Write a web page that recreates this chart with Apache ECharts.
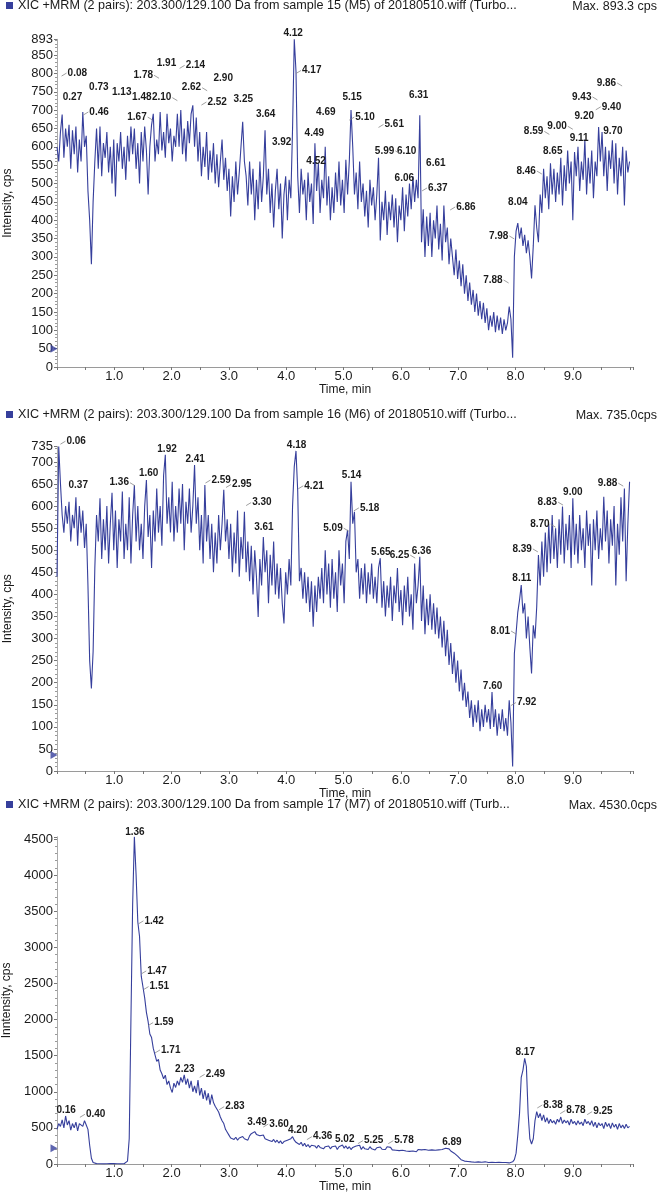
<!DOCTYPE html>
<html>
<head>
<meta charset="utf-8">
<script src="https://cdn.jsdelivr.net/npm/echarts@6.0.0/dist/echarts.min.js"></script>
<style>
  html, body { margin: 0; padding: 0; background: #fff; }
  #chart { width: 658px; height: 1193px; }
</style>
</head>
<body>
<div id="chart"></div>
<script>
// scan interval of the XIC traces, min
const STEP = 0.03
const xLabelTimes = [1, 2, 3, 4, 5, 6, 7, 8, 9]

const sampleTitles = [
  'XIC +MRM (2 pairs): 203.300/129.100 Da from sample 15 (M5) of 20180510.wiff (Turbo...',
  'XIC +MRM (2 pairs): 203.300/129.100 Da from sample 16 (M6) of 20180510.wiff (Turbo...',
  'XIC +MRM (2 pairs): 203.300/129.100 Da from sample 17 (M7) of 20180510.wiff (Turb...'
]
const maxTexts = ['Max. 893.3 cps', 'Max. 735.0cps', 'Max. 4530.0cps']
const yNames = ['Intensity, cps', 'Intensity, cps', 'Inntensity, cps']
const yMax = [893, 735, 4530]
const yStep = [50, 50, 500]
const baseMarks = [50, 36, 217]

// sample 15 (M5), intensity every STEP min from 0.00
const p1Intensity = [
  600, 560, 640, 688, 570, 650, 600, 660, 540, 645,
  580, 655, 530, 620, 560, 695, 600, 630, 480, 400,
  280, 450, 560, 650, 540, 655, 520, 610, 570, 640,
  530, 600, 500, 620, 465, 610, 560, 640, 540, 600,
  510, 630, 560, 655, 580, 650, 540, 610, 500, 640,
  560, 655, 590, 470, 600, 660, 690, 560, 620, 580,
  695, 590, 640, 570, 690, 610, 650, 560, 630, 600,
  690, 600, 700, 580, 650, 560, 670, 610, 690, 713,
  600, 680, 560, 640, 520, 600, 545, 640, 510, 590,
  530, 610, 500, 580, 490, 560, 620, 510, 570, 480,
  540, 410, 520, 450, 560, 470, 530, 600, 668, 560,
  520, 440, 560, 470, 540, 400, 510, 430, 560, 450,
  520, 645, 470, 540, 420, 500, 380, 480, 540, 430,
  500, 350, 470, 520, 400, 510, 460, 650, 893, 805,
  520, 420, 540, 470, 510, 400, 530, 450, 500, 390,
  610, 480, 555, 420, 510, 460, 600, 440, 520, 400,
  490, 420, 530, 450, 560, 440, 510, 420, 565, 470,
  560, 700, 600, 470, 530, 430, 560, 450, 500, 410,
  480, 380, 510, 440, 490, 400, 470, 570, 345, 450,
  400, 480, 360, 450, 400, 470, 380, 460, 340, 440,
  400, 490, 370, 470, 410, 500, 430, 520, 450, 510,
  460, 686, 340, 430, 300, 410, 330, 420, 300, 400,
  350, 440, 320, 390, 290, 440, 340, 380, 280, 350,
  300, 250, 320, 240, 290, 220, 280, 200, 250, 180,
  230, 170, 210, 150, 200, 140, 180, 130, 175, 120,
  160, 100, 140, 110, 150, 95, 140, 100, 135, 90,
  130, 100, 120, 165, 130, 25, 300, 370, 392, 350,
  380, 330, 360, 310, 345, 300, 241, 330, 441, 380,
  340, 470, 420, 540, 460, 520, 430, 555, 470, 540,
  450, 530, 470, 570, 440, 550, 480, 590, 500, 560,
  400, 586, 520, 600, 480, 560, 510, 620, 470, 570,
  500, 590, 460, 560, 520, 654, 560, 640, 520, 600,
  480, 590, 540, 618, 500, 610, 470, 570, 520, 600,
  440, 590, 530, 560
]

// sample 16 (M6)
const p2Intensity = [
  440, 735, 652, 580, 540, 600, 560, 610, 520, 580,
  550, 620, 510, 600, 540, 590, 505, 560, 420, 250,
  187, 270, 460, 580, 520, 618, 480, 570, 500, 600,
  470, 560, 630, 500, 590, 460, 570, 520, 633, 480,
  560, 500, 620, 470, 580, 648, 520, 600, 500, 560,
  480, 600, 659, 530, 580, 460, 590, 520, 640, 540,
  600, 510, 670, 716, 560, 620, 540, 655, 520, 600,
  540, 640, 560, 650, 500, 610, 560, 640, 540, 600,
  693, 560, 620, 500, 580, 470, 648, 520, 580, 480,
  560, 450, 540, 470, 580, 500, 560, 637, 520, 570,
  480, 560, 450, 540, 470, 590, 440, 530, 480, 587,
  450, 520, 430, 510, 400, 500, 440, 349, 480, 420,
  530, 450, 500, 380, 490, 420, 520, 400, 470, 390,
  460, 380, 334, 450, 400, 480, 420, 600, 690, 725,
  633, 430, 460, 390, 450, 380, 440, 360, 430, 327,
  420, 360, 440, 390, 460, 380, 500, 400, 470, 370,
  480, 390, 450, 360, 500, 420, 470, 380, 520, 546,
  480, 655, 560, 587, 450, 480, 390, 460, 400, 470,
  380, 450, 400, 470, 390, 440, 380, 460, 482, 370,
  430, 350, 420, 370, 440, 340, 420, 380, 460, 360,
  410, 330, 420, 360, 440, 350, 400, 320, 470, 380,
  420, 485, 340, 420, 310, 390, 330, 400, 320, 380,
  310, 370, 300, 350, 280, 340, 260, 320, 240, 290,
  220, 270, 200, 250, 180, 230, 160, 200, 145, 180,
  120, 160, 100, 150, 110, 160, 90, 140, 100, 150,
  110, 140, 95, 179, 100, 140, 80, 130, 95, 140,
  90, 120, 80, 160, 110, 10, 266, 312, 360, 387,
  421, 357, 380, 300, 350, 280, 221, 330, 300, 372,
  489, 420, 520, 440, 540, 450, 560, 470, 580, 480,
  550, 460, 570, 490, 599, 470, 560, 500, 580, 460,
  618, 490, 560, 470, 580, 500, 550, 460, 590, 510,
  560, 420, 570, 500, 590, 480, 550, 500, 621, 520,
  590, 470, 570, 510, 600, 420, 560, 490, 620, 520,
  640, 430, 560, 655
]

// sample 17 (M7)
const p3Intensity = [
  480, 560, 520, 610, 500, 665, 540, 600, 470, 560,
  500, 580, 460, 560, 586, 520, 600, 540, 480, 260,
  80, 20, 10, 5, 8, 3, 6, 2, 5, 4,
  3, 6, 2, 5, 8, 3, 5, 2, 6, 4,
  8, 40, 350, 2000, 3600, 4530, 4000, 3350, 3150, 2600,
  2450, 2300, 2100, 1970, 1800, 1750, 1600, 1580, 1420, 1450,
  1300, 1250, 1180, 1230, 1100, 1150, 1050, 990, 1120, 1060,
  1150, 1090, 1200, 1130, 1233, 1100, 1180, 1050, 1150, 1000,
  1080, 980, 1163, 950, 1050, 900, 1020, 880, 980, 820,
  960, 850, 800, 794, 720, 650, 600, 560, 480, 440,
  400, 360, 380, 340, 370, 330, 360, 340, 380, 350,
  360, 330, 390, 420, 400, 448, 410, 430, 390, 380,
  402, 350, 370, 330, 350, 310, 340, 300, 330, 290,
  320, 280, 310, 290, 330, 310, 350, 378, 330, 300,
  320, 270, 300, 250, 286, 240, 270, 230, 260, 240,
  250, 220, 260, 230, 250, 210, 240, 220, 250, 210,
  240, 220, 250, 200, 240, 230, 263, 220, 250, 210,
  240, 200, 230, 210, 250, 230, 260, 200, 240, 210,
  230, 200, 240, 210, 230, 195, 225, 200, 235, 205,
  230, 200, 240, 215, 230, 195, 220, 190, 215, 185,
  210, 190, 215, 180, 205, 175, 200, 180, 205, 170,
  200, 175, 195, 170, 200, 175, 190, 165, 195, 170,
  190, 165, 195, 180, 200, 190, 217, 200, 210, 180,
  200, 150, 160, 110, 90, 60, 55, 40, 55, 35,
  50, 30, 45, 25, 40, 30, 45, 25, 40, 30,
  40, 20, 35, 25, 40, 20, 35, 25, 30, 20,
  35, 20, 30, 15, 25, 30, 60, 150, 400, 700,
  1200, 1300, 1463, 1350, 700, 350, 277, 350, 600, 725,
  640, 700, 600, 680, 580, 640, 560, 620, 570, 600,
  550, 620, 580, 650, 560, 610, 570, 600, 540, 620,
  560, 590, 540, 600, 550, 580, 530, 620, 560, 590,
  540, 600, 520, 580, 500, 570, 530, 560, 490, 580,
  520, 560, 490, 570, 510, 550, 480, 560, 500, 540,
  490, 550, 500, 520
]

// peak annotations [retention time, level of the label]
// centered over the peak / text right of a leader / text left of a leader
const p1Centered = [[0.27, 734], [0.73, 761], [1.13, 749], [1.48, 734], [1.91, 828], [2.90, 788], [3.25, 729],
  [3.64, 688], [3.92, 613], [4.12, 910], [4.49, 636], [4.52, 561], [4.69, 695], [5.15, 736], [6.06, 515],
  [6.10, 589], [6.31, 740], [6.61, 556], [8.04, 450], [8.65, 588], [9.11, 624], [9.20, 683], [9.70, 642]]
const p1Right = [[0.08, 801], [0.46, 695], [2.14, 822], [2.52, 722], [4.17, 808], [5.10, 681], [5.61, 661],
  [6.37, 488], [6.86, 436], [9.40, 709]]
const p1Left = [[1.67, 681], [1.78, 795], [2.10, 734], [2.62, 761], [5.99, 589], [7.88, 237], [7.98, 357],
  [8.46, 534], [8.59, 642], [9.00, 656], [9.43, 736], [9.86, 774]]

const p2Centered = [[0.37, 648], [1.60, 674], [1.92, 729], [2.41, 706], [3.61, 551], [4.18, 738], [5.14, 669],
  [5.65, 495], [6.36, 498], [7.60, 191], [8.11, 436], [9.00, 631]]
const p2Right = [[0.06, 747], [2.59, 659], [2.95, 649], [3.30, 608], [4.21, 646], [5.18, 596], [7.92, 155]]
const p2Left = [[1.36, 653], [5.09, 550], [6.25, 489], [8.01, 317], [8.39, 503], [8.70, 559], [8.83, 609], [9.88, 652]]

const p3Centered = [[0.16, 748], [1.36, 4589], [2.23, 1311], [3.49, 572], [4.20, 471], [5.02, 342], [6.89, 296], [8.17, 1542]]
const p3Right = [[0.40, 688], [1.42, 3366], [1.47, 2673], [1.51, 2456], [1.59, 1958], [1.71, 1579], [2.49, 1242],
  [2.83, 794], [3.60, 554], [4.36, 379], [5.25, 323], [5.78, 323], [8.38, 817], [8.78, 739], [9.25, 725]]
const p3Left = []

const traces = [p1Intensity, p2Intensity, p3Intensity]
const labelSets = [
  [p1Centered, p1Right, p1Left],
  [p2Centered, p2Right, p2Left],
  [p3Centered, p3Right, p3Left]
]

const FONT = '"Liberation Sans", Arial, Helvetica, sans-serif'
const LINE_COLOR = '#363f9c'
const TEXT_COLOR = '#1a1a1a'
// layout of the three panels
const gridTops = [39.3, 446.5, 836.8]
const gridHeights = [327.7, 324.5, 327.2]
const headTops = [-1, 408, 798]

function toPoints (values) {
  return values.map((v, i) => [+(i * STEP).toFixed(2), v])
}

/**
 * side 0: label centered, 1: label right of a leader, -1: label left of a leader
 */
function peakLabels (idx, data, side) {
  return {
    type: 'custom',
    xAxisIndex: idx,
    yAxisIndex: idx,
    data: data,
    clip: false,
    silent: true,
    z: 5,
    renderItem (params, api) {
      const p = api.coord([api.value(0), api.value(1)])
      const textStyle = {
        text: api.value(0).toFixed(2),
        fontSize: 10,
        fontWeight: 'bold',
        fontFamily: FONT,
        fill: TEXT_COLOR,
        verticalAlign: 'middle'
      }
      if (!side) {
        return { type: 'text', style: { ...textStyle, x: p[0], y: p[1], align: 'center' } }
      }
      const dx = side * 5
      return {
        type: 'group',
        children: [
          { type: 'line', shape: { x1: p[0], y1: p[1] + 3, x2: p[0] + dx, y2: p[1] }, style: { stroke: '#888', lineWidth: 0.8 } },
          { type: 'text', style: { ...textStyle, x: p[0] + dx + side, y: p[1], align: side > 0 ? 'left' : 'right' } }
        ]
      }
    }
  }
}

const grid = [], xAxis = [], yAxis = [], series = [], legend = [], title = []

traces.forEach((values, i) => {
  grid.push({ left: 57, top: gridTops[i], width: 576, height: gridHeights[i], outerBoundsMode: 'none' })
  xAxis.push({
    gridIndex: i,
    type: 'value',
    min: 0,
    max: 10.05,
    interval: 0.5,
    name: 'Time, min',
    nameLocation: 'middle',
    nameGap: 16,
    nameTextStyle: { fontSize: 12, color: TEXT_COLOR, fontFamily: FONT },
    axisLine: { lineStyle: { color: '#9a9a9a' } },
    axisTick: { length: 3, lineStyle: { color: '#777' } },
    splitLine: { show: false },
    axisLabel: {
      margin: 3,
      fontSize: 13,
      color: TEXT_COLOR,
      fontFamily: FONT,
      showMinLabel: true,
      showMaxLabel: true,
      formatter: v => {
        const t = xLabelTimes.find(x => Math.abs(x - v) < 1e-6)
        return t ? t.toFixed(1) : ''
      }
    }
  })
  yAxis.push({
    gridIndex: i,
    type: 'value',
    min: 0,
    max: yMax[i],
    interval: yStep[i],
    name: yNames[i],
    nameLocation: 'middle',
    nameGap: 43,
    nameTextStyle: { fontSize: 12, color: TEXT_COLOR, fontFamily: FONT },
    axisLine: { show: true, lineStyle: { color: '#aaa' } },
    axisTick: { show: true, length: 3, lineStyle: { color: '#777' } },
    minorTick: { show: true, splitNumber: 5, length: 2, lineStyle: { color: '#999' } },
    splitLine: { show: false },
    axisLabel: {
      margin: 4,
      fontSize: 13,
      color: TEXT_COLOR,
      fontFamily: FONT,
      showMaxLabel: true,
      formatter: v => {
        if (v % yStep[i] === 0) return String(v)
        return v === yMax[i] && i < 2 ? String(Math.round(v)) : ''
      }
    }
  })
  series.push({
    type: 'line',
    name: sampleTitles[i],
    xAxisIndex: i,
    yAxisIndex: i,
    data: toPoints(values),
    showSymbol: false,
    symbol: 'none',
    sampling: null,
    lineStyle: { width: 1.1, color: LINE_COLOR },
    itemStyle: { color: LINE_COLOR },
    z: 2
  })
  series.push({
    type: 'scatter',
    xAxisIndex: i,
    yAxisIndex: i,
    data: [[0, baseMarks[i]]],
    symbol: 'triangle',
    symbolSize: [8, 7],
    symbolRotate: -90,
    symbolOffset: [-3, 0],
    itemStyle: { color: LINE_COLOR },
    clip: false,
    silent: true,
    z: 4
  })
  const [centered, right, left] = labelSets[i]
  series.push(peakLabels(i, centered, 0), peakLabels(i, right, 1), peakLabels(i, left, -1))

  legend.push({
    data: [sampleTitles[i]],
    left: 6,
    top: headTops[i],
    padding: 0,
    icon: 'rect',
    itemWidth: 7,
    itemHeight: 7,
    selectedMode: false,
    textStyle: { fontSize: 12.6, color: TEXT_COLOR, fontFamily: FONT }
  })
  title.push({
    text: maxTexts[i],
    right: 1,
    top: headTops[i] + 1,
    padding: 0,
    textStyle: { fontSize: 12.5, fontWeight: 'normal', color: TEXT_COLOR, fontFamily: FONT }
  })
})

const myChart = echarts.init(document.getElementById('chart'))
myChart.setOption({
  animation: false,
  backgroundColor: '#fff',
  title,
  legend,
  grid,
  xAxis,
  yAxis,
  series
})
</script>
</body>
</html>
